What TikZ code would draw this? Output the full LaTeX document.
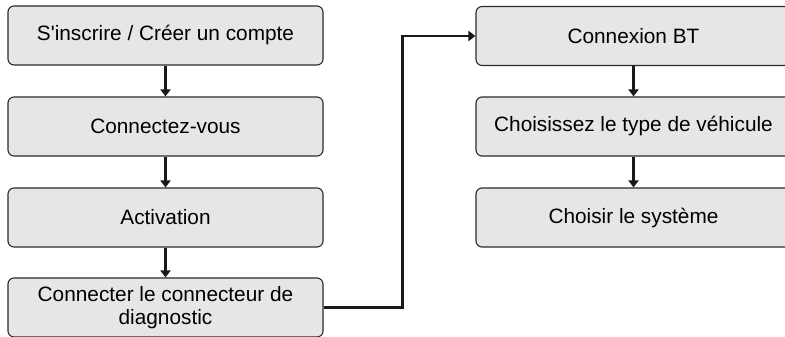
\documentclass[tikz,border=0pt]{standalone}
\usepackage{fontspec}
\setmainfont{Liberation Sans}
\usepackage{tikz}
\usetikzlibrary{arrows.meta,positioning}
\definecolor{boxgray}{HTML}{E6E6E7}
\definecolor{edgegray}{HTML}{2A2A2A}
\tikzstyle{stepbox} = [draw=edgegray,fill=boxgray,line width=1.1pt,rounded corners=6pt,minimum width=315pt,minimum height=59pt,inner sep=0pt,align=center,font=\fontsize{20.8}{23}\selectfont]
\tikzstyle{flow} = [line width=2.6pt,draw=black!90]
\tikzset{>={Triangle[width=10pt,length=7pt]}}

\begin{document}
\begin{tikzpicture}[x=1pt,y=-1pt]
    \useasboundingbox (0,0) rectangle (785,337);
    \clip (0,0) rectangle (785,337);
    % left column
    \node [stepbox] (reg) at (165.5,35.5) {S\textquotesingle inscrire / Créer un compte};
    \node [stepbox] (login) at (165.5,126.5) {Connectez-vous};
    \node [stepbox] (act) at (165.5,217.5) {Activation};
    \node [stepbox] (diag) at (165.5,307.5) {Connecter le connecteur de\\diagnostic};
    % right column
    \node [stepbox] (bt) at (633.5,36) {Connexion BT};
    \node [stepbox] (veh) at (633.5,126.5) {Choisissez le type de véhicule};
    \node [stepbox] (sys) at (633.5,217.5) {Choisir le système};

    \draw [flow,->] (reg) -- (login);
    \draw [flow,->] (login) -- (act);
    \draw [flow,->] (act) -- (diag);
    \draw [flow,->] (diag.east) -- ++(79,0) |- (bt.west);
    \draw [flow,->] (bt) -- (veh);
    \draw [flow,->] (veh) -- (sys);
\end{tikzpicture}
\end{document}
